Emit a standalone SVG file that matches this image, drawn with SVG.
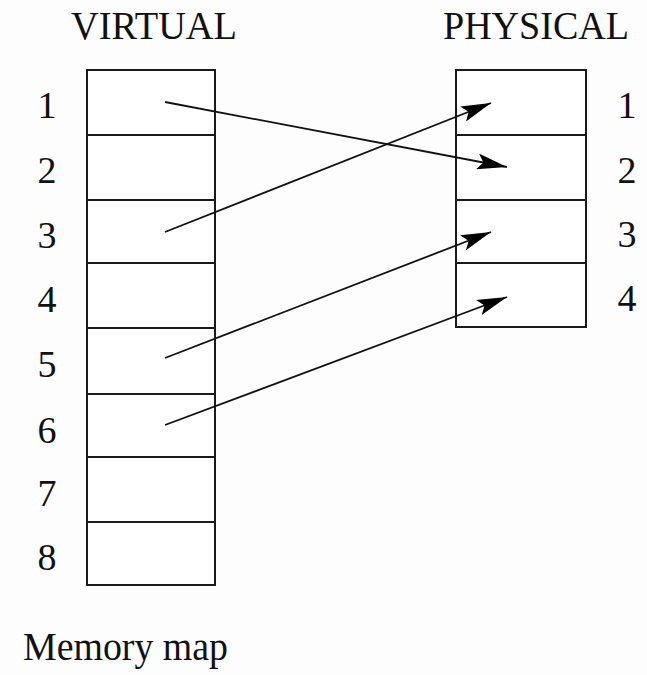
<svg xmlns="http://www.w3.org/2000/svg" width="647" height="675" viewBox="0 0 647 675">
  <style>
    .cell { fill: #ffffff; stroke: #1a1a1a; stroke-width: 2; }
    .lbl { font-family: "Liberation Serif", "Times New Roman", serif; font-size: 40px; fill: #111111; }
    .num { font-family: "Liberation Serif", "Times New Roman", serif; font-size: 38px; fill: #111111; text-anchor: middle; }
    .link { fill: none; stroke: #111111; stroke-width: 1.8; marker-end: url(#head); }
  </style>
  <defs>
    <marker id="head" viewBox="0 0 30 16" refX="30" refY="8" markerWidth="30" markerHeight="16" markerUnits="userSpaceOnUse" orient="auto">
      <path d="M0,0 L30,8 L0,16 L6,8 Z" fill="#000000"/>
    </marker>
  </defs>
  <rect width="647" height="675" fill="#fdfdfd"/>

  <text class="lbl" x="71" y="39" textLength="166" lengthAdjust="spacingAndGlyphs">VIRTUAL</text>
  <text class="lbl" x="443" y="39" textLength="186" lengthAdjust="spacingAndGlyphs">PHYSICAL</text>

  <!-- virtual pages -->
  <g id="v1"><rect class="cell" x="87" y="70" width="128" height="65"/><text class="num" x="47" y="118">1</text></g>
  <g id="v2"><rect class="cell" x="87" y="135" width="128" height="65"/><text class="num" x="47" y="183">2</text></g>
  <g id="v3"><rect class="cell" x="87" y="200" width="128" height="63"/><text class="num" x="47" y="248">3</text></g>
  <g id="v4"><rect class="cell" x="87" y="263" width="128" height="65"/><text class="num" x="47" y="312">4</text></g>
  <g id="v5"><rect class="cell" x="87" y="328" width="128" height="66"/><text class="num" x="47" y="377">5</text></g>
  <g id="v6"><rect class="cell" x="87" y="394" width="128" height="63"/><text class="num" x="47" y="443">6</text></g>
  <g id="v7"><rect class="cell" x="87" y="457" width="128" height="65"/><text class="num" x="47" y="506">7</text></g>
  <g id="v8"><rect class="cell" x="87" y="522" width="128" height="63"/><text class="num" x="47" y="570">8</text></g>

  <!-- physical frames -->
  <g id="p1"><rect class="cell" x="456" y="70" width="130" height="65"/><text class="num" x="627" y="118">1</text></g>
  <g id="p2"><rect class="cell" x="456" y="135" width="130" height="65"/><text class="num" x="627" y="183">2</text></g>
  <g id="p3"><rect class="cell" x="456" y="200" width="130" height="63"/><text class="num" x="627" y="247">3</text></g>
  <g id="p4"><rect class="cell" x="456" y="263" width="130" height="64"/><text class="num" x="627" y="311">4</text></g>

  <!-- page-to-frame mappings -->
  <g id="links">
    <line class="link" x1="165" y1="102" x2="507" y2="167"/>
    <line class="link" x1="165" y1="232" x2="491" y2="103"/>
    <line class="link" x1="165" y1="358" x2="491" y2="232"/>
    <line class="link" x1="165" y1="425" x2="507" y2="297"/>
  </g>

  <text class="lbl" x="23" y="660" textLength="205" lengthAdjust="spacingAndGlyphs">Memory map</text>
</svg>
